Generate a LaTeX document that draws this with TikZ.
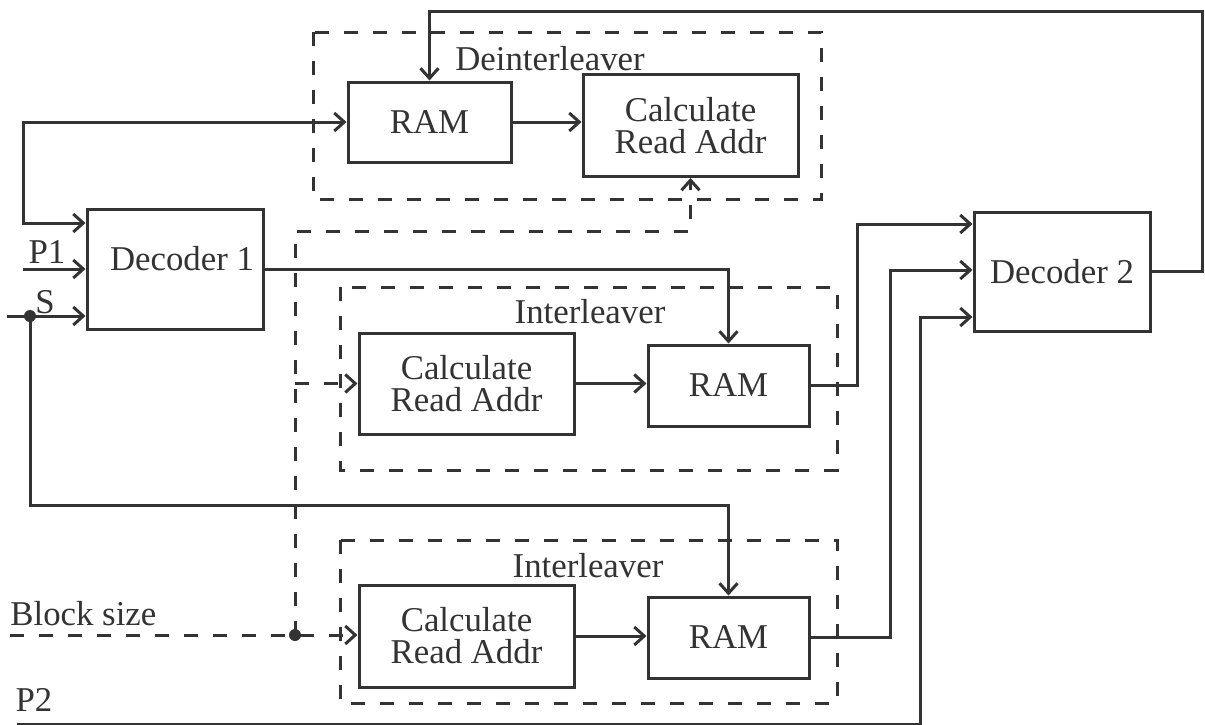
\documentclass[tikz,border=0pt]{standalone}
\usepackage{fontspec}
\setmainfont{Liberation Serif}
\usetikzlibrary{arrows.meta}
\definecolor{ink}{gray}{0.2}
\tikzset{
  px/.style={x=0.5pt,y=-0.5pt},
  blk/.style={draw=ink,line width=1.5pt,inner sep=0pt,align=center,text=ink},
  grp/.style={draw=ink,line width=1.5pt,dash pattern=on 7pt off 7.5pt},
  wire/.style={draw=ink,line width=1.5pt},
  dwire/.style={draw=ink,line width=1.5pt,dash pattern=on 7pt off 7.5pt},
  arr/.style={-{Straight Barb[length=5pt,width=9pt,line width=1.5pt]}},
  barr/.style={{Straight Barb[length=5pt,width=9pt,line width=1.5pt]}-{Straight Barb[length=5pt,width=9pt,line width=1.5pt]}},
  lbl/.style={text=ink,inner sep=0pt},
  jdot/.style={circle,fill=ink,inner sep=0pt,minimum size=6pt},
}
\begin{document}
\begin{tikzpicture}[px,font=\fontsize{17.4}{16}\selectfont]
\useasboundingbox (0,0) rectangle (1205,724);
% dashed group frames
\draw[grp] (313,32) rectangle (821,199);
\draw[grp] (340,287) rectangle (837,470);
\draw[grp] (340,540) rectangle (837,703);
\node[lbl,anchor=base] (tdeint) at (550,70) {Deinterleaver};
\node[lbl,anchor=base] (tint1) at (590,323) {Interleaver};
\node[lbl,anchor=base] (tint2) at (588,577) {Interleaver};
% blocks
\node[blk,minimum width=81.5pt,minimum height=40pt] (ram1) at (429.5,122) {RAM};
\node[blk,minimum width=107.5pt,minimum height=51pt] (calc1) at (690.5,125.5) {Calculate\\Read Addr};
\node[blk,minimum width=88pt,minimum height=60pt] (dec1) at (175,269) {};
\node[lbl] (dec1t) at (182,259) {Decoder 1};
\node[blk,minimum width=107.5pt,minimum height=50.5pt] (calc2) at (466.5,383.5) {Calculate\\Read Addr};
\node[blk,minimum width=80.5pt,minimum height=40.5pt] (ram2) at (728.5,385.5) {RAM};
\node[blk,minimum width=107.5pt,minimum height=51pt] (calc3) at (466.5,636) {Calculate\\Read Addr};
\node[blk,minimum width=80.5pt,minimum height=40.5pt] (ram3) at (728.5,637.5) {RAM};
\node[blk,minimum width=88pt,minimum height=59.5pt] (dec2) at (1062,271.5) {Decoder 2};
% input labels
\node[lbl] (p1) at (47,252) {P1};
\node[lbl] (s) at (45,302) {S};
\node[lbl,anchor=base west] (bsz) at (10,625) {Block size};
\node[lbl] (p2) at (34,700) {P2};
% coordinates
\coordinate (c1) at (23,223);
\coordinate (p1s) at (23,269);
\coordinate (ss) at (7,316);
\coordinate (s2) at (30,505);
\coordinate (k1) at (857,224);
\coordinate (k2) at (890,270);
\coordinate (k3) at (920,317);
\coordinate (p2s) at (17,724);
\coordinate (fb) at (1202,11);
\coordinate (bs) at (10,635);
\coordinate (bt) at (295,231);
% solid connectors
\draw[wire,barr] (c1 -| dec1.west) -- (c1) |- (ram1.west);
\draw[wire,arr] (p1s) -- (p1s -| dec1.west);
\draw[wire,arr] (ss) -- (ss -| dec1.west);
\node[jdot] (sj) at (30,316) {};
\draw[wire,arr] (sj.center) -- (s2) -| (ram3.north);
\draw[wire,arr] (dec1.east) -| (ram2.north);
\draw[wire,arr] (ram1.east) -- (ram1.east -| calc1.west);
\draw[wire,arr] (calc2.east) -- (calc2.east -| ram2.west);
\draw[wire,arr] (calc3.east) -- (calc3.east -| ram3.west);
\draw[wire,arr] (ram2.east) -| (k1) -- (k1 -| dec2.west);
\draw[wire,arr] (ram3.east) -| (k2) -- (k2 -| dec2.west);
\draw[wire,arr] (p2s) -| (k3) -- (k3 -| dec2.west);
\draw[wire,arr] (dec2.east) -| (fb) -| (ram1.north);
% dashed block-size connectors
\draw[dwire,arr] (bs) -- (bs -| calc3.west);
\node[jdot] (bj) at (295,635) {};
\draw[dwire,arr] (bj.center) -- (bt) -| (calc1.south);
\draw[dwire,arr] (bj |- calc2.west) -- (calc2.west);
\end{tikzpicture}
\end{document}
